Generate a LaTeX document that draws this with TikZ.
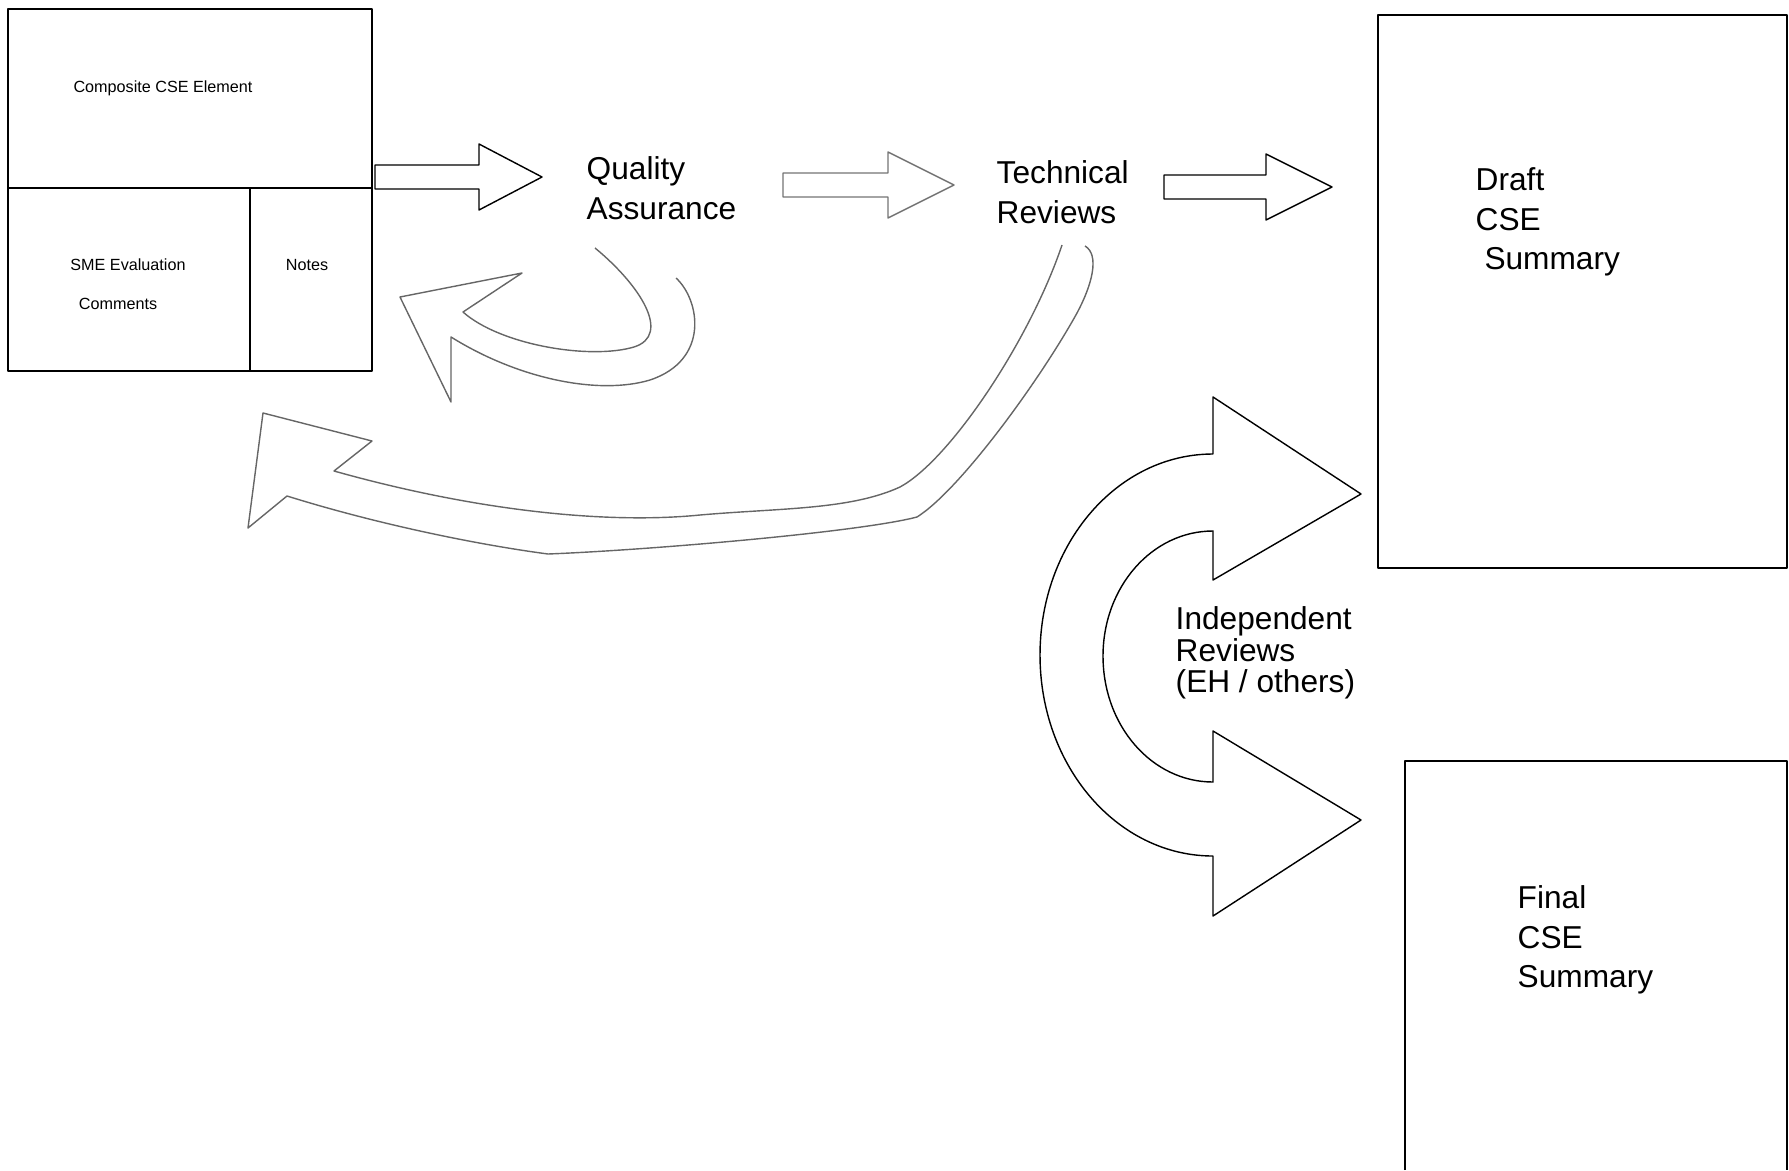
\documentclass[tikz,border=0pt]{standalone}
\usepackage{fontspec}
\setmainfont{Liberation Sans}
\newcommand*{\bigtxt}{\fontsize{9}{11.3}\selectfont}
\newcommand*{\smalltxt}{\fontsize{4.6}{5.5}\selectfont}
\begin{document}
\begin{tikzpicture}[x=0.01cm, y=-0.01cm, line width=0.4pt, line join=round,
	bigtext/.style={font=\bigtxt, align=left, anchor=west, inner sep=0pt},
	celltext/.style={font=\smalltxt, inner sep=0pt},
	faint/.style={draw=black!60}]
	\useasboundingbox (0,0) rectangle (1789,1170);

	% boxes
	\draw (8,9) rectangle (372,371);
	\draw (8,188) -- (372,188);
	\draw (250,188) -- (250,371);
	\draw (1378,15) rectangle (1787,568);
	\draw (1405,1170) -- (1405,761) -- (1787,761) -- (1787,1170);

	\node[celltext] (comp) at (163,88) {Composite CSE Element};
	\node[celltext] (sme) at (128,265) {SME Evaluation};
	\node[celltext] (comm) at (118,304) {Comments};
	\node[celltext] (notes) at (307,265) {Notes};

	\node[bigtext] (qa) at (586,188) {Quality\\Assurance};
	\node[bigtext] (tech) at (996,192) {Technical\\Reviews};
	\node[bigtext] (draft) at (1475,222) {Draft\\CSE\\\hspace*{2.5pt}Summary};
	\node[bigtext, font=\fontsize{9}{8.9}\selectfont] (indep) at (1175,653) {Independent\\Reviews\\(EH / others)};
	\node[bigtext] (final) at (1517,940) {Final\\CSE\\Summary};

	% straight block arrows
	\foreach \xa/\xb/\xc/\ym/\st in {375/479/542/177/black, 783/888/954/185/black!55, 1164/1266/1332/187/black}
		\draw[draw=\st] (\xa,\ym-12) -- (\xb,\ym-12) -- (\xb,\ym-33) -- (\xc,\ym)
			-- (\xb,\ym+33) -- (\xb,\ym+12) -- (\xa,\ym+12) -- cycle;

	% loop back from quality assurance
	\draw[faint] (595,248) .. controls (640,285) and (672,335) .. (634,347)
		.. controls (590,360) and (500,345) .. (463,312)
		-- (522,273) -- (400,297) -- (451,402) -- (451,337)
		.. controls (520,380) and (600,395) .. (650,380)
		.. controls (710,360) and (700,300) .. (676,278);

	% long return from technical reviews
	\draw[faint] (1062,245) .. controls (1030,340) and (950,460) .. (900,487)
		.. controls (850,510) and (780,508) .. (700,515)
		.. controls (610,524) and (480,512) .. (334,471)
		-- (372,441) -- (263,413) -- (248,528) -- (287,496)
		.. controls (380,525) and (480,545) .. (548,554)
		.. controls (650,550) and (860,532) .. (917,517)
		.. controls (960,490) and (1040,380) .. (1077,313)
		.. controls (1092,285) and (1100,255) .. (1085,246);

	% independent reviews, two heads
	\draw (1213,454) -- (1213,397) -- (1361,494) -- (1213,580) -- (1213,531)
		.. controls (1152,531) and (1103,587) .. (1103,656)
		.. controls (1103,726) and (1152,782) .. (1213,782)
		-- (1213,731) -- (1361,820) -- (1213,916) -- (1213,856)
		.. controls (1117,856) and (1040,766) .. (1040,655)
		.. controls (1040,544) and (1117,454) .. (1213,454) -- cycle;

\end{tikzpicture}
\end{document}
